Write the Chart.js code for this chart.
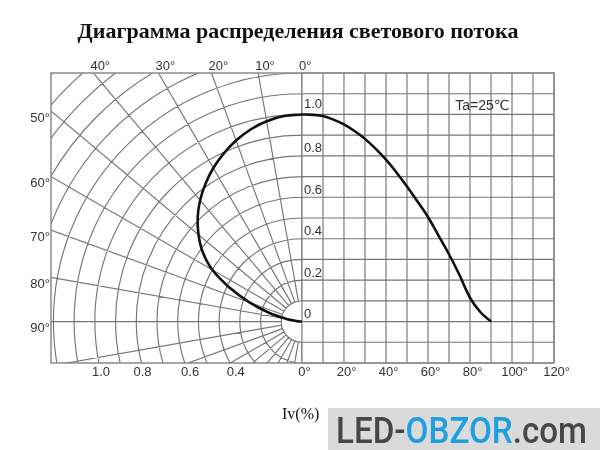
<!DOCTYPE html>
<html>
<head>
<meta charset="utf-8">
<script src="https://cdn.jsdelivr.net/npm/chart.js@4/dist/chart.umd.min.js"></script>
<style>
  html, body { margin: 0; padding: 0; background: #fff; }
  canvas { display: block; }
</style>
</head>
<body>
<canvas id="fluxChart" width="600" height="450"></canvas>
<script>
// Angle from the LED axis (deg)
const angles = [0, 5, 10, 15, 20, 25, 30, 35, 40, 45, 50, 55, 60, 65, 70, 75, 80, 85, 90];
// Relative intensity, right-hand (cartesian) curve
const cartesianIv = [1.0, 0.998, 0.992, 0.975, 0.952, 0.92, 0.882, 0.835, 0.782, 0.72, 0.652, 0.58, 0.505, 0.415, 0.325, 0.225, 0.115, 0.045, 0.0];
// Relative intensity, left-hand (polar) curve
const polarIv = [1.0, 0.996, 0.982, 0.96, 0.93, 0.895, 0.856, 0.812, 0.765, 0.712, 0.652, 0.585, 0.5, 0.383, 0.27, 0.165, 0.08, 0.025, 0.0];

// Tick labels
const topAngleLabels = [0, 10, 20, 30, 40];
const sideAngleLabels = [50, 60, 70, 80, 90];
const bottomAngleTicks = [0, 20, 40, 60, 80, 100, 120];
const intensityTicks = [0, 0.2, 0.4, 0.6, 0.8, 1.0];
const radiusLabels = ['1.0', '0.8', '0.6', '0.4'];

// Plot area geometry (px) - both halves share the same unit size
const PAD = { left: 51, right: 46, top: 73, bottom: 87 };
const AREA_W = 600 - PAD.left - PAD.right;
const AREA_H = 450 - PAD.top - PAD.bottom;
const DEG_MIN = -119.5, DEG_MAX = 120;
const IV_MIN = -0.2, IV_MAX = 1.2;
const unitPx = AREA_H / (IV_MAX - IV_MIN);
const zeroFrac = -DEG_MIN / (DEG_MAX - DEG_MIN);
const XP_MIN = -zeroFrac * AREA_W / unitPx;
const XP_MAX = (1 - zeroFrac) * AREA_W / unitPx;

const rad = d => d * Math.PI / 180;
const LABEL_FONT = '13px "Liberation Sans", Arial, sans-serif';

const fluxPlugin = {
    id: 'fluxGrid',
    beforeDraw(chart) {
        const ctx = chart.ctx;
        ctx.save();
        ctx.fillStyle = '#fff';
        ctx.fillRect(0, 0, chart.width, chart.height);
        ctx.restore();
    },
    beforeDatasetsDraw(chart) {
        const { ctx, chartArea: a, scales: { x, y } } = chart;
        const cx = x.getPixelForValue(0);
        const cy = y.getPixelForValue(0);
        const R = cy - y.getPixelForValue(1);

        ctx.save();
        ctx.strokeStyle = '#767676';
        ctx.lineWidth = 1.15;

        // cartesian grid on the right
        ctx.beginPath();
        for (let d = 0; d <= 120; d += 10) {
            const px = x.getPixelForValue(d);
            ctx.moveTo(px, a.top);
            ctx.lineTo(px, a.bottom);
        }
        for (let k = -2; k <= 12; k++) {
            const py = y.getPixelForValue(k / 10);
            ctx.moveTo(cx, py);
            ctx.lineTo(a.right, py);
        }
        ctx.stroke();

        // polar grid on the left
        ctx.beginPath();
        ctx.rect(a.left, a.top, cx - a.left, a.bottom - a.top);
        ctx.clip();
        ctx.beginPath();
        for (let k = 1; k <= 18; k++) {
            const r = k * 0.1 * R;
            ctx.moveTo(cx, cy - r);
            ctx.arc(cx, cy, r, -Math.PI / 2, Math.PI / 2, true);
        }
        for (let t = 0; t <= 180; t += 10) {
            const dx = -Math.sin(rad(t)), dy = -Math.cos(rad(t));
            ctx.moveTo(cx + dx * 0.1 * R, cy + dy * 0.1 * R);
            ctx.lineTo(cx + dx * 2 * R, cy + dy * 2 * R);
        }
        ctx.stroke();
        ctx.restore();

        // frame
        ctx.save();
        ctx.strokeStyle = '#8a8a8a';
        ctx.lineWidth = 1.5;
        ctx.strokeRect(a.left, a.top, a.right - a.left, a.bottom - a.top);
        ctx.restore();
    },
    afterDraw(chart) {
        const { ctx, chartArea: a, scales: { x, y } } = chart;
        const cx = x.getPixelForValue(0);
        const cy = y.getPixelForValue(0);
        const R = cy - y.getPixelForValue(1);

        ctx.save();
        ctx.fillStyle = '#333';
        ctx.font = LABEL_FONT;
        ctx.textBaseline = 'middle';

        // angle labels along the top edge
        ctx.textAlign = 'left';
        topAngleLabels.forEach(t => {
            const hx = cx - (cy - a.top) * Math.tan(rad(t));
            ctx.fillText(t + '°', hx - 3, a.top - 7);
        });

        // angle labels along the left edge
        ctx.textAlign = 'right';
        sideAngleLabels.forEach(t => {
            const hy = cy - (cx - a.left) / Math.tan(rad(t));
            ctx.fillText(t + '°', a.left - 1, hy + 7);
        });

        // degree ticks under the cartesian half
        ctx.textAlign = 'left';
        bottomAngleTicks.forEach(d => {
            const px = x.getPixelForValue(d);
            const w = ctx.measureText(String(d)).width;
            ctx.fillText(d + '°', px - w / 2, a.bottom + 9);
        });

        // intensity ticks beside the 0° line
        intensityTicks.forEach(v => {
            const txt = v === 0 ? '0' : v.toFixed(1);
            const off = v === 1 ? 10 : 7;
            ctx.fillText(txt, cx + 2, y.getPixelForValue(v) - off);
        });

        // radius labels under the polar half
        const radiusPos = [0.97, 0.77, 0.54, 0.32];
        ctx.textAlign = 'center';
        radiusLabels.forEach((s, i) => {
            ctx.fillText(s, cx - radiusPos[i] * R, a.bottom + 9);
        });

        // ambient temperature note
        ctx.textAlign = 'left';
        ctx.font = '14px "Liberation Sans", "DejaVu Sans", Arial, sans-serif';
        ctx.fillText('Ta=25℃', x.getPixelForValue(73), y.getPixelForValue(1.04));

        // title
        ctx.fillStyle = '#111';
        ctx.textAlign = 'center';
        ctx.font = 'bold 22px "Liberation Serif", "Times New Roman", serif';
        ctx.fillText('Диаграмма распределения светового потока', 298, 32);

        // axis name
        ctx.textAlign = 'left';
        ctx.font = '16px "Liberation Serif", "Times New Roman", serif';
        ctx.fillText('Iv(%)', 282, 415);

        // watermark
        ctx.fillStyle = '#dadada';
        ctx.fillRect(328, 408, 272, 42);
        ctx.font = '500 36px Roboto, "Liberation Sans", sans-serif';
        ctx.textBaseline = 'alphabetic';
        const parts = [['LED-', '#474747'], ['OBZOR', '#1e9fe0'], ['.com', '#474747']];
        const total = parts.reduce((s, p) => s + ctx.measureText(p[0]).width, 0);
        const sx = 251 / total;
        ctx.translate(336, 443);
        ctx.scale(sx, 1);
        let px = 0;
        parts.forEach(([s, c]) => {
            ctx.fillStyle = c;
            ctx.fillText(s, px, 0);
            px += ctx.measureText(s).width;
        });
        ctx.restore();
    }
};

new Chart(document.getElementById('fluxChart'), {
    type: 'scatter',
    data: {
        datasets: [
            {
                label: 'Iv polar',
                xAxisID: 'xp',
                data: angles.map((a, i) => ({ x: -polarIv[i] * Math.sin(rad(a)), y: polarIv[i] * Math.cos(rad(a)) })),
                showLine: true,
                borderColor: '#111',
                borderWidth: 2.6,
                pointRadius: 0,
                tension: 0.4
            },
            {
                label: 'Iv',
                xAxisID: 'x',
                data: angles.map((a, i) => ({ x: a, y: cartesianIv[i] })),
                showLine: true,
                borderColor: '#111',
                borderWidth: 2.6,
                pointRadius: 0,
                tension: 0.4
            }
        ]
    },
    options: {
        responsive: false,
        animation: false,
        layout: { padding: PAD },
        plugins: { legend: { display: false }, tooltip: { enabled: false } },
        scales: {
            x: { type: 'linear', display: false, min: DEG_MIN, max: DEG_MAX },
            xp: { type: 'linear', display: false, min: XP_MIN, max: XP_MAX },
            y: { type: 'linear', display: false, min: IV_MIN, max: IV_MAX }
        }
    },
    plugins: [fluxPlugin]
});
</script>
</body>
</html>
